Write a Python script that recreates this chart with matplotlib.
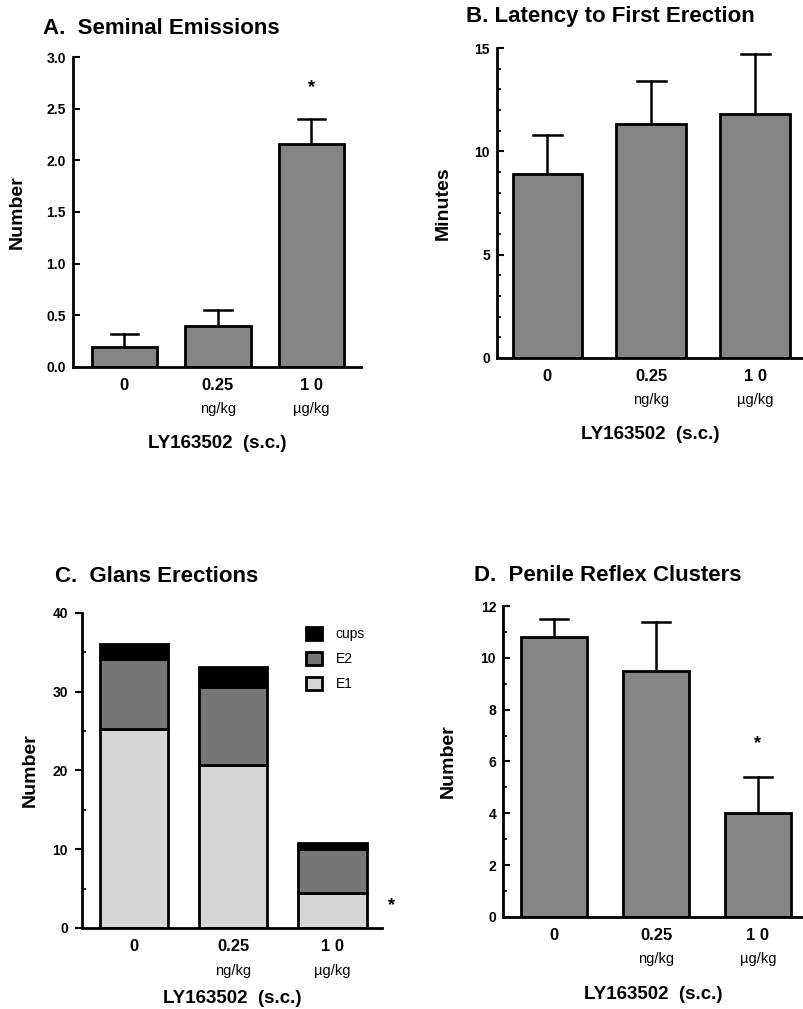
import matplotlib.pyplot as plt
from matplotlib.ticker import MultipleLocator
from matplotlib.transforms import blended_transform_factory

plt.rcParams['font.family'] = ['Liberation Sans', 'DejaVu Sans']

doses = ['0', '0.25', '1 0']
units = ['', 'ng/kg', 'µg/kg']
xlabel = 'LY163502  (s.c.)'

# A. Seminal Emissions
sem_mean = [0.19, 0.40, 2.16]
sem_err = [0.13, 0.15, 0.24]
# B. Latency to First Erection
lat_mean = [8.9, 11.3, 11.8]
lat_err = [1.9, 2.1, 2.9]
# C. Glans Erections (stacked)
gl_e1 = [25.3, 20.7, 4.4]
gl_e2 = [8.8, 9.9, 5.6]
gl_cups = [1.9, 2.5, 0.8]
# D. Penile Reflex Clusters
prc_mean = [10.8, 9.5, 4.0]
prc_err = [0.7, 1.9, 1.4]

BAR = '#858585'
E1 = '#d6d6d6'
E2 = '#777777'

fig = plt.figure(figsize=(8.04, 10.09), dpi=100)


def style_axes(ax, xlim, ylim, major, minor, ylabel, ylab_x, xlab_y, tickfmt=None, mdir='in'):
    for s in ['top', 'right']:
        ax.spines[s].set_visible(False)
    for s in ['left', 'bottom']:
        ax.spines[s].set_linewidth(2)
    ax.set_xlim(*xlim)
    ax.set_ylim(*ylim)
    ax.yaxis.set_major_locator(MultipleLocator(major))
    if minor:
        ax.yaxis.set_minor_locator(MultipleLocator(minor))
    if tickfmt:
        ax.yaxis.set_major_formatter(tickfmt)
    ax.tick_params(axis='y', which='major', direction=mdir, length=5, width=1.5,
                   labelsize=10, pad=5)
    ax.tick_params(axis='y', which='minor', direction='in', length=3, width=1.2)
    for lbl in ax.get_yticklabels():
        lbl.set_fontweight('bold')
    ax.set_xticks(range(3))
    ax.set_xticklabels(doses, fontsize=12, fontweight='bold')
    ax.tick_params(axis='x', length=0, pad=8)
    tr = blended_transform_factory(ax.transData, ax.transAxes)
    for i, u in enumerate(units):
        ax.text(i, -0.135, u, transform=tr, ha='center', va='center', fontsize=10.5)
    ax.set_xlabel(xlabel, fontsize=13.5, fontweight='bold')
    ax.xaxis.set_label_coords(0.5, xlab_y)
    ax.set_ylabel(ylabel, fontsize=14, fontweight='bold')
    ax.yaxis.set_label_coords(ylab_x, 0.5)


def err_bars(ax, means, errs, width):
    for i, (m, e) in enumerate(zip(means, errs)):
        ax.plot([i, i], [m, m + e], color='black', lw=1.8, zorder=1)
        ax.plot([i - width * 0.21, i + width * 0.21], [m + e, m + e], color='black', lw=1.8,
                zorder=1)


# Panel A
axA = fig.add_axes([0.0908, 0.6363, 0.358, 0.3072])
axA.bar(range(3), sem_mean, width=0.70, color=BAR, edgecolor='black', linewidth=2, zorder=2)
err_bars(axA, sem_mean, sem_err, 0.70)
axA.text(2, 2.70, '*', ha='center', va='center', fontsize=13, fontweight='bold')
style_axes(axA, (-0.55, 2.53), (0, 3.0), 0.5, None, 'Number', -0.165, -0.218, tickfmt='{x:.1f}')
fig.text(0.053, 0.972, 'A.  Seminal Emissions', fontsize=16, fontweight='bold', va='center')

# Panel B
axB = fig.add_axes([0.618, 0.6452, 0.382, 0.3072])
axB.bar(range(3), lat_mean, width=0.67, color=BAR, edgecolor='black', linewidth=2, zorder=2)
err_bars(axB, lat_mean, lat_err, 0.67)
style_axes(axB, (-0.486, 2.47), (0, 15), 5, 1, 'Minutes', -0.148, -0.221)
fig.text(0.580, 0.984, 'B. Latency to First Erection', fontsize=16, fontweight='bold', va='center')

# Panel C
axC = fig.add_axes([0.102, 0.0803, 0.373, 0.3122])
xs = range(3)
bottom_e2 = gl_e1
bottom_cups = [a + b for a, b in zip(gl_e1, gl_e2)]
axC.bar(xs, gl_e1, width=0.69, color=E1, edgecolor='black', linewidth=2, label='E1', zorder=2)
axC.bar(xs, gl_e2, width=0.69, bottom=bottom_e2, color=E2, edgecolor='black', linewidth=2,
        label='E2', zorder=2)
axC.bar(xs, gl_cups, width=0.69, bottom=bottom_cups, color='black', edgecolor='black',
        linewidth=2, label='cups', zorder=2)
style_axes(axC, (-0.525, 2.5), (0, 40), 10, 5, 'Number', -0.145, -0.196, mdir='out')
axC.text(2.6, 2.8, '*', ha='center', va='center', fontsize=13, fontweight='bold', clip_on=False)
h, l = axC.get_legend_handles_labels()
leg = axC.legend(h[::-1], l[::-1], loc='upper right', bbox_to_anchor=(0.985, 0.995), frameon=False,
                 fontsize=10, handlelength=1.1, handleheight=1.1, handletextpad=1.0,
                 labelspacing=0.75)
fig.text(0.068, 0.429, 'C.  Glans Erections', fontsize=16, fontweight='bold', va='center')

# Panel D
axD = fig.add_axes([0.6256, 0.0912, 0.374, 0.3082])
axD.bar(range(3), prc_mean, width=0.65, color=BAR, edgecolor='black', linewidth=2, zorder=2)
err_bars(axD, prc_mean, prc_err, 0.65)
axD.text(2, 6.7, '*', ha='center', va='center', fontsize=13, fontweight='bold')
style_axes(axD, (-0.505, 2.45), (0, 12), 2, 1, 'Number', -0.155, -0.223)
fig.text(0.590, 0.430, 'D.  Penile Reflex Clusters', fontsize=16, fontweight='bold', va='center')

fig.savefig('out.png', dpi=100)
